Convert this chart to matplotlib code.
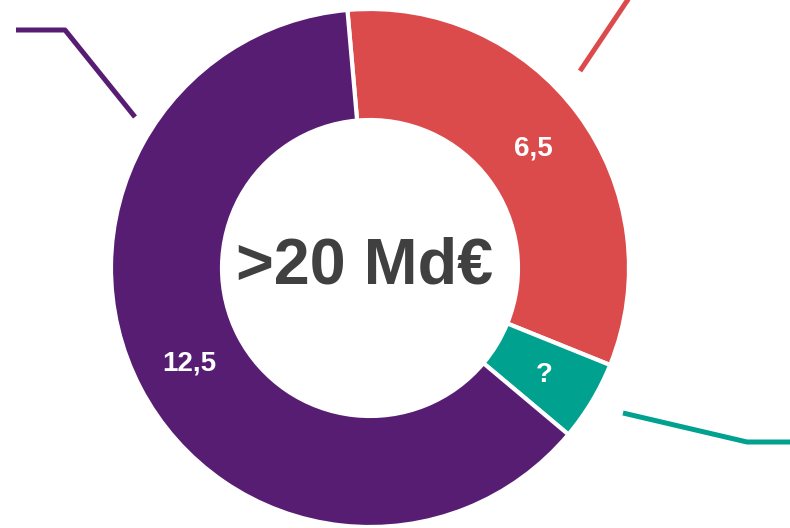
import matplotlib
matplotlib.use("Agg")
import matplotlib.pyplot as plt
import numpy as np

labels = ["6,5", "?", "12,5"]
values = [6.5, 1.0, 12.5]
colors = ["#DC4B4C", "#00A18F", "#571D73"]
center_text = ">20 Md€"

W, H = 790, 528
fig = plt.figure(figsize=(W / 100, H / 100), dpi=100)
ax = fig.add_axes([0, 0, 1, 1])

cx, cy = 370, H - 268
R = 259
w = 111

wedges, texts = ax.pie(values, colors=colors, startangle=95, counterclock=False,
                       center=(cx, cy), radius=R, frame=True,
                       wedgeprops=dict(width=w, edgecolor="white", linewidth=3.0))
ax.set_xlim(0, W)
ax.set_ylim(0, H)
ax.set_aspect("equal")
ax.axis("off")

tot = sum(values)
ang = 95
for v, lab in zip(values, labels):
    mid = ang - v / tot * 360 / 2
    ang -= v / tot * 360
    rr = R - w / 2
    x = cx + rr * np.cos(np.radians(mid))
    y = cy + rr * np.sin(np.radians(mid)) - 2
    ax.text(x, y, lab, ha="center", va="center", color="white",
            fontsize=20, fontweight="bold", family="Liberation Sans")

ax.text(cx - 5, cy + 1, center_text, ha="center", va="center", color="#404040",
        fontsize=46.5, fontweight="bold", family="Liberation Sans")

# leader lines
ax.plot([16, 65, 135], [H - 30, H - 30, H - 117], color=colors[2], lw=3.6, solid_capstyle="butt")
ax.plot([580, 633], [H - 71, H + 8], color=colors[0], lw=3.6, solid_capstyle="butt")
ax.plot([623, 747, 795], [H - 413, H - 442, H - 442], color=colors[1], lw=3.6, solid_capstyle="butt")

fig.savefig("out.png", dpi=100)
